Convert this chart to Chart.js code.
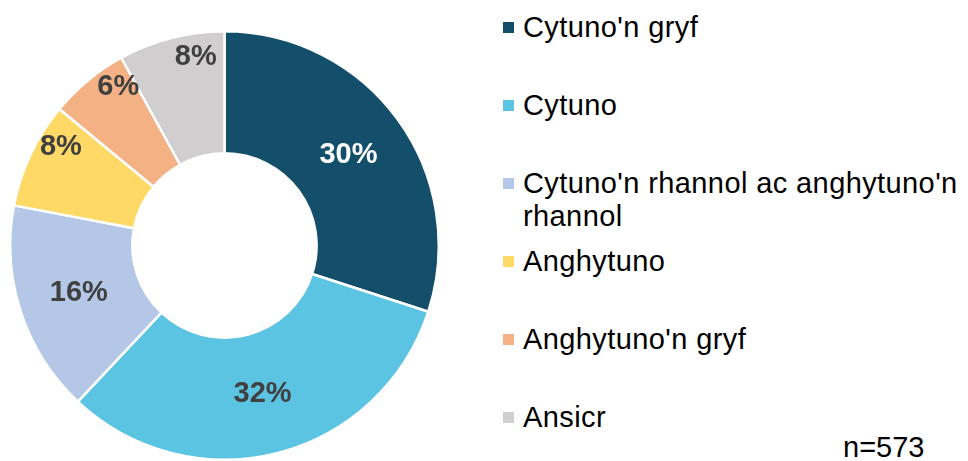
<!DOCTYPE html>
<html>
<head>
<meta charset="utf-8">
<script src="https://cdn.jsdelivr.net/npm/chart.js@4.4.0/dist/chart.umd.min.js"></script>
<style>
  html, body { margin: 0; padding: 0; background: #fff; }
  #wrap { position: relative; width: 968px; height: 461px; overflow: hidden;
          font-family: "Liberation Sans", Arial, sans-serif; }
  #chartBox { position: absolute; left: 9px; top: 30px; width: 431px; height: 431px; }
  #legend { position: absolute; left: 0; top: 0; }
  .item { position: absolute; left: 503px; width: 450px; }
  .swatch { position: absolute; left: 0; top: 11px; width: 11px; height: 11px; }
  .txt { position: absolute; left: 20px; width: 440px; font-size: 29px; line-height: 33px;
         letter-spacing: 0.4px; color: #000; }
  #note { position: absolute; left: 843px; top: 431px; font-size: 29px; line-height: 33px; color: #000; }
</style>
</head>
<body>
<div id="wrap">
  <div id="chartBox"><canvas id="donut"></canvas></div>
  <div id="legend"></div>
  <div id="note">n=573</div>
</div>
<script>
// ------------------------------
// Data.
const categories = ["Cytuno'n gryf", "Cytuno", "Cytuno'n rhannol ac anghytuno'n rhannol",
                    "Anghytuno", "Anghytuno'n gryf", "Ansicr"];
const shares = [30, 32, 16, 8, 6, 8];
const sliceColors = ['#134f6b', '#5bc4e2', '#b4c7e7', '#ffd966', '#f4b183', '#d0cece'];
const labelColors = ['#ffffff', '#404040', '#404040', '#404040', '#404040', '#404040'];

// ------------------------------
// Draws the percentage inside every slice; thin slices get their label pushed out.
const sliceLabels = {
  id: 'sliceLabels',
  afterDatasetsDraw: function(chart) {
    const ctx = chart.ctx;
    const meta = chart.getDatasetMeta(0);
    ctx.save();
    ctx.font = 'bold 29px "Liberation Sans", Arial, sans-serif';
    ctx.textAlign = 'center';
    ctx.textBaseline = 'middle';
    meta.data.forEach(function(arc, i) {
      const p = arc.getProps(['x', 'y', 'startAngle', 'endAngle', 'innerRadius', 'outerRadius'], true);
      let mid = (p.startAngle + p.endAngle) / 2;
      let r = (p.innerRadius + p.outerRadius) / 2;
      if (shares[i] < 10) {
        r = p.outerRadius * 0.89;
        mid += 0.1;
      }
      ctx.fillStyle = labelColors[i];
      ctx.fillText(shares[i] + '%', p.x + Math.cos(mid) * r, p.y + Math.sin(mid) * r);
    });
    ctx.restore();
  }
};

new Chart(document.getElementById('donut').getContext('2d'), {
  type: 'doughnut',
  data: {
    labels: categories,
    datasets: [{
      data: shares,
      backgroundColor: sliceColors,
      borderColor: '#ffffff',
      borderWidth: 2.5
    }]
  },
  options: {
    responsive: true,
    maintainAspectRatio: false,
    animation: false,
    cutout: '43%',
    layout: { padding: 0 },
    plugins: {
      legend: { display: false },
      tooltip: { enabled: false }
    }
  },
  plugins: [sliceLabels]
});

// ------------------------------
// Legend on the right, built from the same arrays.
const legendBox = document.getElementById('legend');
categories.forEach(function(name, i) {
  const item = document.createElement('div');
  item.className = 'item';
  item.style.top = (27 + i * 78 - 16) + 'px';
  item.innerHTML = '<div class="swatch" style="background:' + sliceColors[i] + '"></div>' +
                   '<div class="txt">' + name + '</div>';
  legendBox.appendChild(item);
});
</script>
</body>
</html>
